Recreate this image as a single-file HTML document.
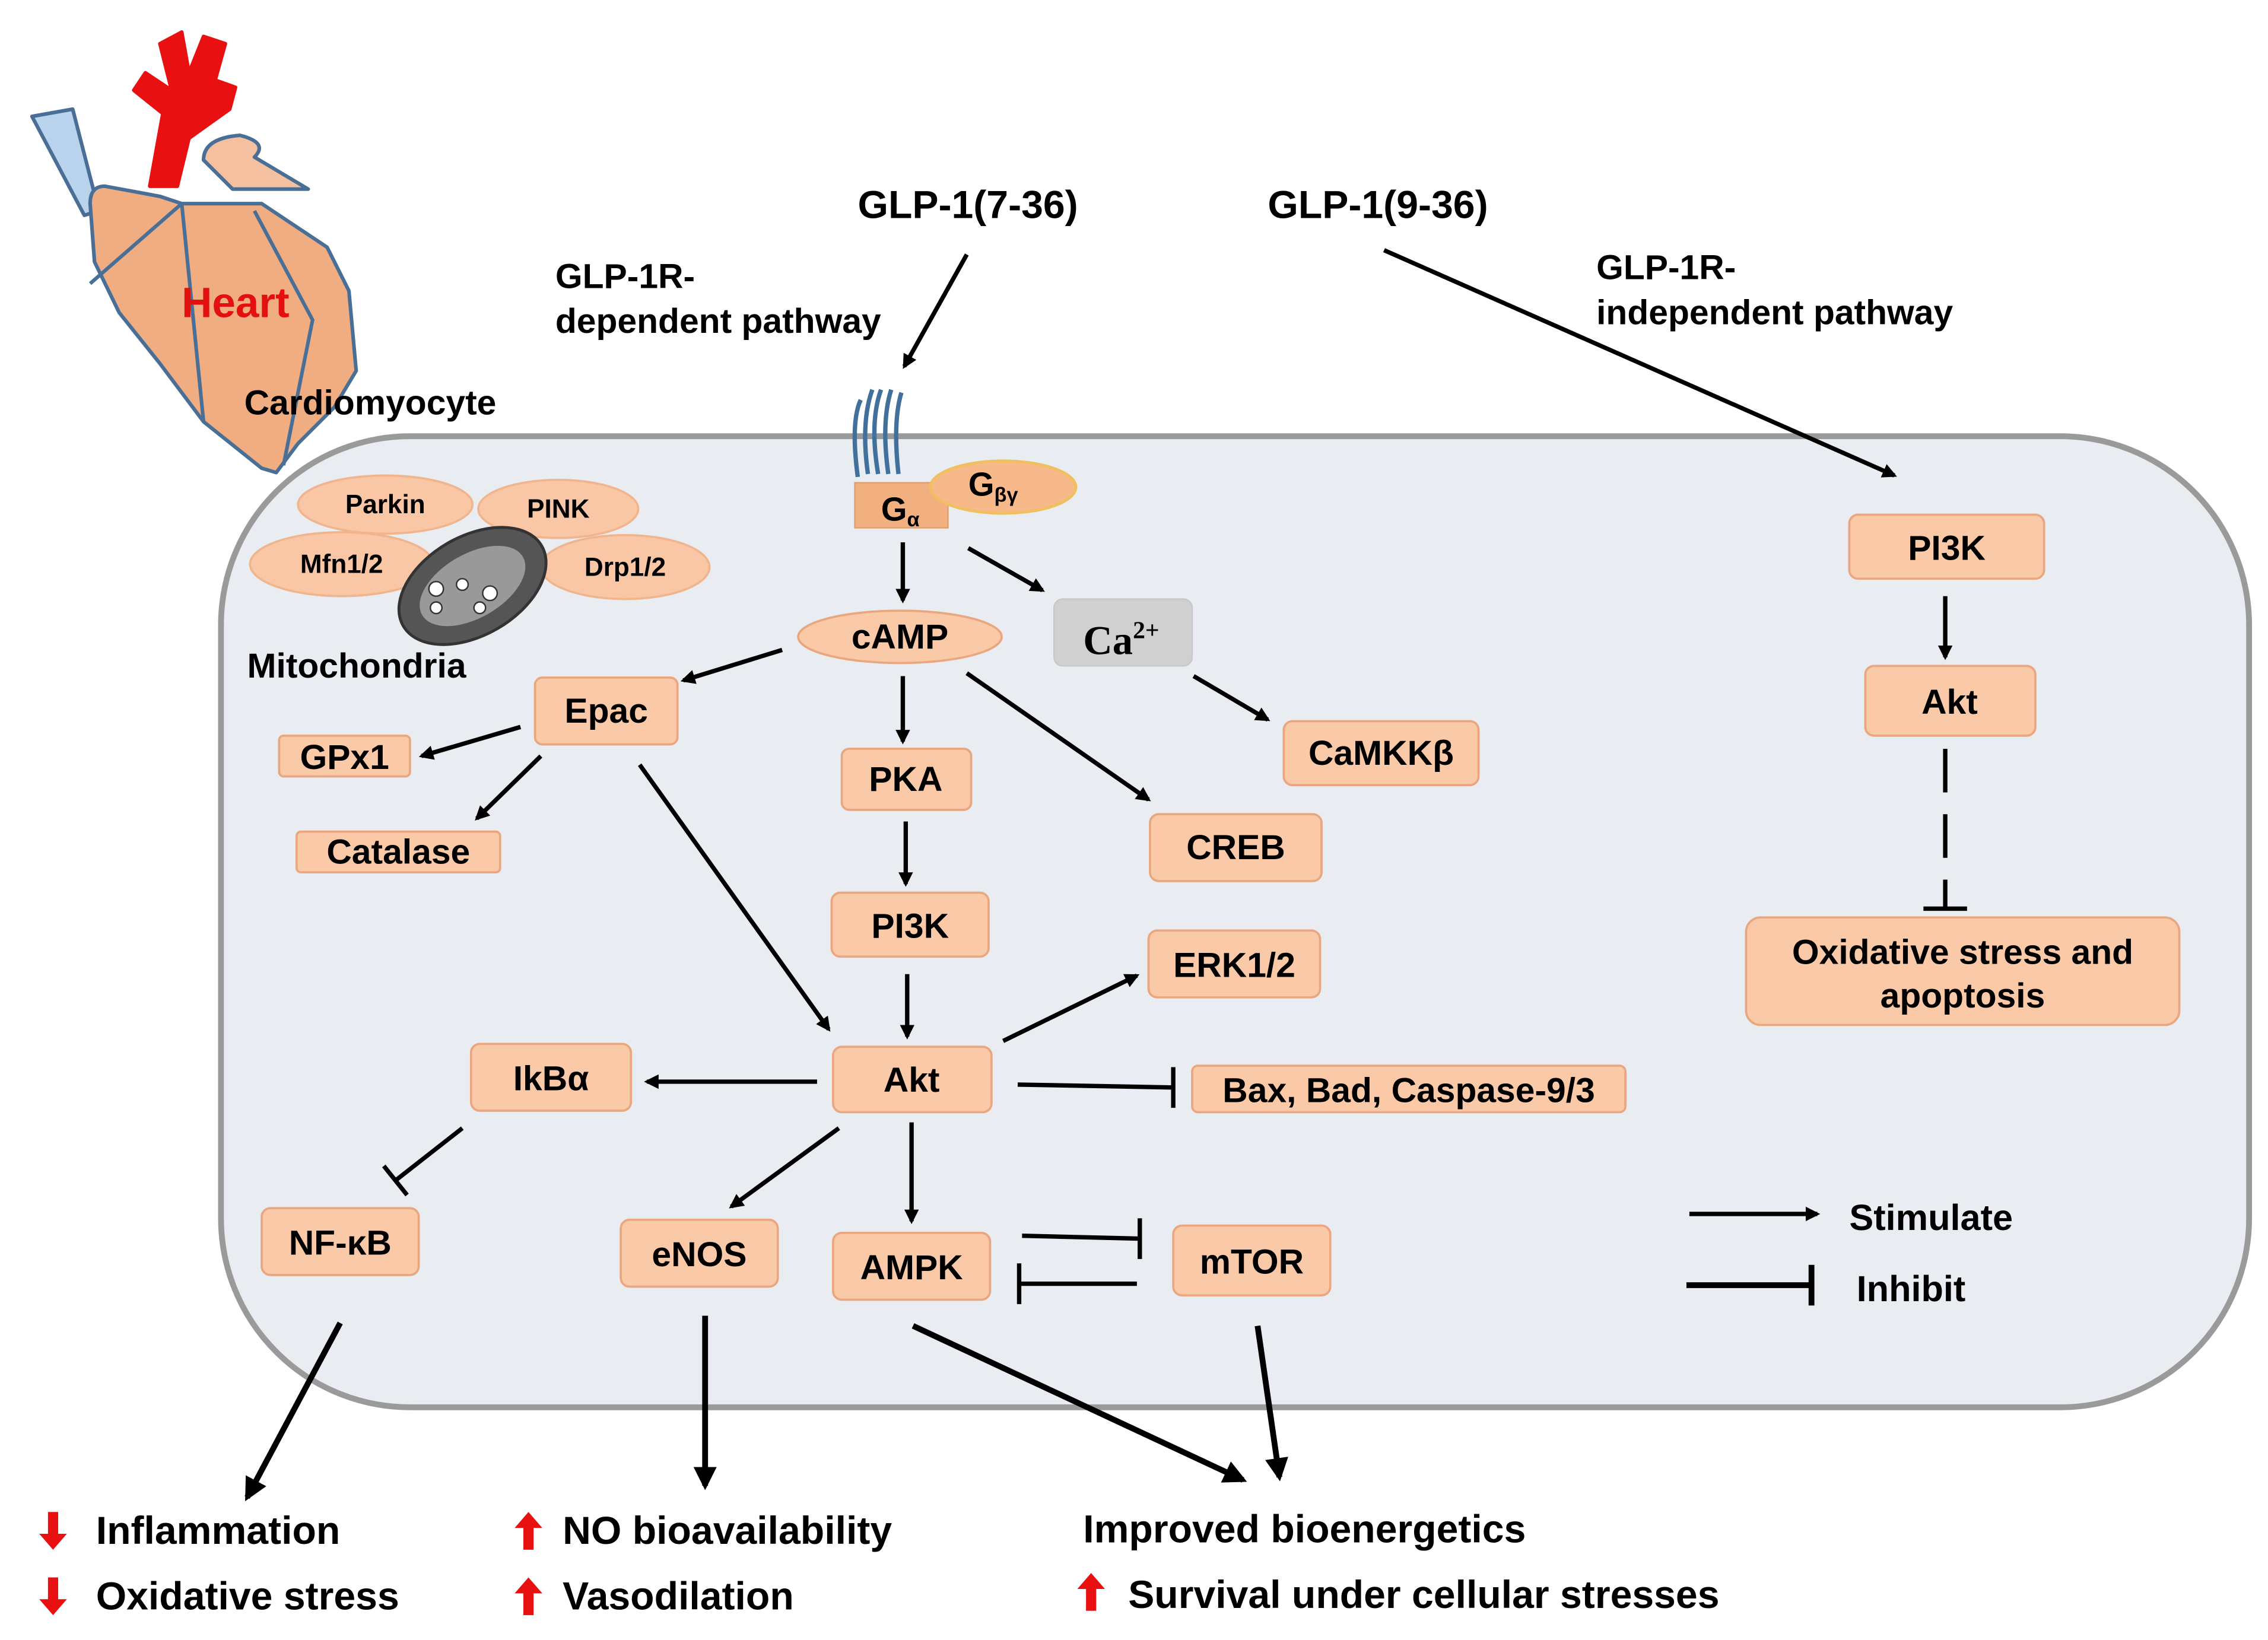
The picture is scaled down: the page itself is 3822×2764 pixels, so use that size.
<!DOCTYPE html>
<html><head><meta charset="utf-8"><style>html,body{margin:0;padding:0;background:#fff}svg{display:block}</style></head>
<body>
<svg width="3822" height="2764" viewBox="0 0 1560 1128" xmlns="http://www.w3.org/2000/svg" font-family="Liberation Sans, sans-serif" font-weight="bold">
<defs>
<marker id="a" markerWidth="10" markerHeight="10" refX="8" refY="5" orient="auto" markerUnits="userSpaceOnUse" viewBox="0 0 10 10"><path d="M0,0 L10,5 L0,10 z" fill="#000"/></marker>
<marker id="ab" markerWidth="16" markerHeight="16" refX="13" refY="8" orient="auto" markerUnits="userSpaceOnUse" viewBox="0 0 16 16"><path d="M0,0 L16,8 L0,16 z" fill="#000"/></marker>
</defs>
<rect width="1560" height="1128" fill="#fff"/>
<rect x="152" y="300" width="1395" height="668" rx="130" fill="#e9ecf1" stroke="#9a9a9a" stroke-width="4"/>
<!-- heart -->
<g stroke="#4a6f96" stroke-width="2.5" stroke-linejoin="round">
<path d="M22,80 L50,75 L68,145 L58,148 Z" fill="#b9d3ec"/>
<path d="M103,128 L112,78 L92,62 L100,50 L118,62 L110,30 L125,22 L130,50 L140,25 L155,30 L148,55 L162,60 L158,75 L130,95 L122,128 Z" fill="#e81010" stroke="#e81010"/>
<path d="M140,110 Q140,95 165,93 Q185,98 175,108 L212,130 L160,130 Z" fill="#f4c0a0"/>
<path d="M62,140 Q62,128 72,128 L110,135 L125,140 L180,140 L225,170 L240,200 L245,255 L230,280 L205,305 L190,325 L180,322 L140,290 L110,250 L82,215 L65,180 Z" fill="#f1ad82"/>
<path d="M62,195 L125,140 L140,290" fill="none"/>
<path d="M175,145 L215,220 L195,320" fill="none"/>
</g>
<text x="162" y="218" font-size="29" fill="#e31010" text-anchor="middle">Heart</text>
<text x="168" y="285" font-size="24">Cardiomyocyte</text>
<text x="590" y="150" font-size="27">GLP-1(7-36)</text>
<text x="872" y="150" font-size="27">GLP-1(9-36)</text>
<text x="382" y="198" font-size="24">GLP-1R-</text>
<text x="382" y="229" font-size="24">dependent pathway</text>
<text x="1098" y="192" font-size="24">GLP-1R-</text>
<text x="1098" y="223" font-size="24">independent pathway</text>
<g fill="#f9c7a6" stroke="#f1b58e" stroke-width="1.5">
<ellipse cx="265" cy="347" rx="60" ry="20"/>
<ellipse cx="384" cy="350" rx="55" ry="20"/>
<ellipse cx="235" cy="388" rx="63" ry="22"/>
<ellipse cx="430" cy="390" rx="58" ry="22"/>
</g>
<ellipse cx="325" cy="403" rx="55" ry="34" transform="rotate(-30 325 403)" fill="#555" stroke="#333" stroke-width="2"/>
<ellipse cx="325" cy="403" rx="40" ry="22" transform="rotate(-30 325 403)" fill="#999"/>
<g fill="#fff" stroke="#333" stroke-width="1"><circle cx="300" cy="405" r="5"/><circle cx="318" cy="402" r="4"/><circle cx="337" cy="408" r="5"/><circle cx="330" cy="418" r="4"/><circle cx="300" cy="418" r="4"/></g>
<g font-size="18" text-anchor="middle"><text x="265" y="353">Parkin</text><text x="384" y="356">PINK</text><text x="235" y="394">Mfn1/2</text><text x="430" y="396">Drp1/2</text></g>
<text x="170" y="466" font-size="24">Mitochondria</text>
<g fill="none" stroke="#41709c" stroke-width="3">
<path d="M590,328 Q585,290 592,275 M597,326 Q592,290 600,268 M604,326 Q598,290 606,268 M611,326 Q606,290 613,268 M618,326 Q614,290 620,270"/>
</g>
<rect x="588" y="332" width="64" height="31" fill="#f2b080" stroke="#e0a070"/>
<ellipse cx="690" cy="335" rx="50" ry="18" fill="#f7b98a" stroke="#f0c060" stroke-width="2"/>
<text x="606" y="358" font-size="23">G<tspan font-size="14" dy="4">α</tspan></text>
<text x="666" y="341" font-size="23">G<tspan font-size="14" dy="4">βγ</tspan></text>
<g fill="#f9c9a8" stroke="#eaa67e" stroke-width="1.5">
<ellipse cx="619" cy="438" rx="70" ry="18"/>
<rect x="368" y="466" width="98" height="46" rx="5"/>
<rect x="192" y="506" width="90" height="28" rx="3"/>
<rect x="204" y="572" width="140" height="28" rx="3"/>
<rect x="579" y="515" width="89" height="42" rx="5"/>
<rect x="791" y="560" width="118" height="46" rx="6"/>
<rect x="883" y="496" width="134" height="44" rx="6"/>
<rect x="572" y="614" width="108" height="44" rx="6"/>
<rect x="790" y="640" width="118" height="46" rx="6"/>
<rect x="573" y="720" width="109" height="45" rx="6"/>
<rect x="324" y="718" width="110" height="46" rx="6"/>
<rect x="820" y="733" width="298" height="32" rx="4"/>
<rect x="180" y="831" width="108" height="46" rx="6"/>
<rect x="427" y="839" width="108" height="46" rx="6"/>
<rect x="573" y="848" width="108" height="46" rx="6"/>
<rect x="807" y="843" width="108" height="48" rx="6"/>
<rect x="1272" y="354" width="134" height="44" rx="6"/>
<rect x="1283" y="458" width="117" height="48" rx="6"/>
<rect x="1201" y="631" width="298" height="74" rx="10"/>
</g>
<rect x="725" y="412" width="95" height="46" rx="6" fill="#d0d0d0" stroke="#c8c8c8"/>
<text x="745" y="450" font-size="28" font-family="Liberation Serif, serif">Ca<tspan font-size="17" dy="-11">2+</tspan></text>
<g font-size="24" text-anchor="middle">
<text x="619" y="446">cAMP</text>
<text x="417" y="497">Epac</text>
<text x="237" y="529">GPx1</text>
<text x="274" y="594">Catalase</text>
<text x="623" y="544">PKA</text>
<text x="850" y="591">CREB</text>
<text x="950" y="526">CaMKKβ</text>
<text x="626" y="645">PI3K</text>
<text x="849" y="672">ERK1/2</text>
<text x="627" y="751">Akt</text>
<text x="379" y="750">IkBα</text>
<text x="969" y="758">Bax, Bad, Caspase-9/3</text>
<text x="234" y="863">NF-κB</text>
<text x="481" y="871">eNOS</text>
<text x="627" y="880">AMPK</text>
<text x="861" y="876">mTOR</text>
<text x="1339" y="385">PI3K</text>
<text x="1341" y="491">Akt</text>
<text x="1350" y="663">Oxidative stress and</text>
<text x="1350" y="693">apoptosis</text>
</g>
<g stroke="#000" stroke-width="3" fill="none" marker-end="url(#a)">
<path d="M665,175 L622,252"/>
<path d="M952,172 L1303,327"/>
<path d="M621,373 L621,413"/>
<path d="M666,377 L717,406"/>
<path d="M538,447 L470,468"/>
<path d="M821,465 L872,495"/>
<path d="M621,465 L621,510"/>
<path d="M665,463 L790,550"/>
<path d="M358,500 L290,520"/>
<path d="M372,520 L328,563"/>
<path d="M623,565 L623,608"/>
<path d="M440,526 L570,708"/>
<path d="M624,670 L624,713"/>
<path d="M690,716 L782,671"/>
<path d="M562,744 L445,744"/>
<path d="M577,776 L503,830"/>
<path d="M627,772 L627,840"/>
<path d="M1338,410 L1338,452"/>
<path d="M1162,835 L1250,835"/>
</g>
<g stroke="#000" stroke-width="4" fill="none" marker-end="url(#ab)">
<path d="M234,910 L170,1030"/>
<path d="M485,905 L485,1022"/>
<path d="M628,912 L855,1018"/>
<path d="M865,912 L880,1016"/>
</g>
<g stroke="#000" stroke-width="3" fill="none">
<path d="M700,746 L807,748 M807,734 L807,762"/>
<path d="M318,776 L272,812 M264,802 L280,822"/>
<path d="M703,850 L784,852 M784,838 L784,866"/>
<path d="M782,883 L701,883 M701,869 L701,897"/>
<path d="M1338,515 L1338,625" stroke-dasharray="30,15"/>
<path d="M1323,625 L1353,625"/>
<path d="M1160,884 L1246,884 M1246,870 L1246,898" stroke-width="4"/>
</g>
<text x="1272" y="846" font-size="25">Stimulate</text>
<text x="1277" y="895" font-size="25">Inhibit</text>
<g fill="#e81010">
<path d="M33,1040 L40,1040 L40,1055 L46,1055 L36.5,1066 L27,1055 L33,1055 Z"/>
<path d="M33,1085 L40,1085 L40,1100 L46,1100 L36.5,1111 L27,1100 L33,1100 Z"/>
<path d="M360,1066 L367,1066 L367,1051 L373,1051 L363.5,1040 L354,1051 L360,1051 Z"/>
<path d="M360,1111 L367,1111 L367,1096 L373,1096 L363.5,1085 L354,1096 L360,1096 Z"/>
<path d="M747,1108 L754,1108 L754,1093 L760,1093 L750.5,1082 L741,1093 L747,1093 Z"/>
</g>
<g font-size="27">
<text x="66" y="1062">Inflammation</text>
<text x="66" y="1107">Oxidative stress</text>
<text x="387" y="1062">NO bioavailability</text>
<text x="387" y="1107">Vasodilation</text>
<text x="745" y="1061">Improved bioenergetics</text>
<text x="776" y="1106">Survival under cellular stresses</text>
</g>
</svg>
</body></html>
